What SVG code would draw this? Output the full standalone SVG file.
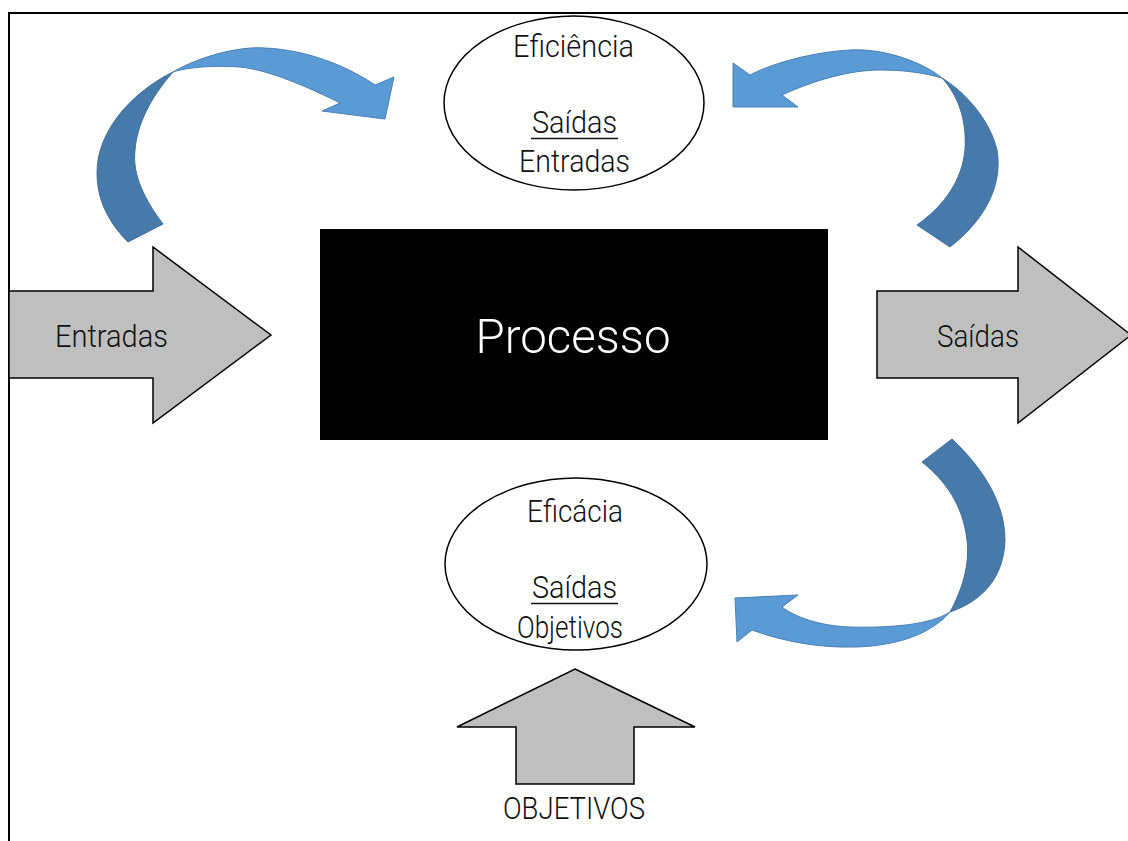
<svg xmlns="http://www.w3.org/2000/svg" width="1128" height="841" viewBox="0 0 1128 841">
  <style>
    .frame { fill: none; stroke: #000; stroke-width: 2; }
    .block { fill: #BFBFBF; stroke: #000; stroke-width: 1.5; stroke-linejoin: miter; }
    .oval { fill: #fff; stroke: #000; stroke-width: 1.5; }
    .lbl { font-family: Roboto, "Liberation Sans", sans-serif; font-size: 32px; font-weight: 300; fill: #111; text-anchor: middle; }
    .big { font-family: Roboto, "Liberation Sans", sans-serif; font-size: 49px; font-weight: 300; fill: #fff; text-anchor: middle; }
    .ul { stroke: #111; stroke-width: 1.5; }
    .front { fill: #5B9BD5; stroke: #4A7FB3; stroke-width: 1; stroke-linejoin: round; }
    .back { fill: #477AAB; stroke: #3F6E9C; stroke-width: 1; stroke-linejoin: round; }
  </style>

  <!-- page frame -->
  <path class="frame" d="M9 841 V13 H1128"/>

  <!-- central process block -->
  <g id="processo">
    <rect x="320" y="229" width="508" height="211" fill="#000"/>
    <text class="big" x="573" y="353" textLength="195" lengthAdjust="spacingAndGlyphs">Processo</text>
  </g>

  <!-- inputs -->
  <g id="entradas">
    <polygon class="block" points="9,291 153,291 153,247 271,335 153,423 153,378 9,378"/>
    <text class="lbl" x="111.5" y="347" textLength="113" lengthAdjust="spacingAndGlyphs">Entradas</text>
  </g>

  <!-- outputs -->
  <g id="saidas">
    <polygon class="block" points="877,291 1018,291 1018,247 1131,335 1018,423 1018,378 877,378"/>
    <text class="lbl" x="978" y="347" textLength="82" lengthAdjust="spacingAndGlyphs">Saídas</text>
  </g>

  <!-- efficiency -->
  <g id="eficiencia">
    <ellipse class="oval" cx="574" cy="103" rx="130" ry="87"/>
    <text class="lbl" x="573.5" y="57" textLength="121" lengthAdjust="spacingAndGlyphs">Eficiência</text>
    <text class="lbl" x="574.5" y="133" textLength="85" lengthAdjust="spacingAndGlyphs">Saídas</text>
    <line class="ul" x1="531" y1="138.5" x2="618" y2="138.5"/>
    <text class="lbl" x="574.5" y="172" textLength="111" lengthAdjust="spacingAndGlyphs">Entradas</text>
  </g>

  <!-- effectiveness -->
  <g id="eficacia">
    <ellipse class="oval" cx="576" cy="564" rx="131" ry="86"/>
    <text class="lbl" x="575" y="522" textLength="96" lengthAdjust="spacingAndGlyphs">Eficácia</text>
    <text class="lbl" x="574.5" y="598" textLength="85" lengthAdjust="spacingAndGlyphs">Saídas</text>
    <line class="ul" x1="531" y1="603.5" x2="618" y2="603.5"/>
    <text class="lbl" x="570" y="638" textLength="106" lengthAdjust="spacingAndGlyphs">Objetivos</text>
  </g>

  <!-- objectives -->
  <g id="objetivos">
    <polygon class="block" points="575,669 695,727 634,727 634,784 516,784 516,727 457,727"/>
    <text class="lbl" x="574" y="819" textLength="142" lengthAdjust="spacingAndGlyphs">OBJETIVOS</text>
  </g>

  <!-- curved feedback arrows -->
  <g id="connectors">
    <!-- inputs to efficiency -->
    <path class="back" d="M173 72 C140 88 105 120 98 160 C93 195 108 222 128 242 L163 224 C145 200 132 175 135 150 C137 125 150 98 173 72 Z"/>
    <path class="front" d="M173 72 C200 56 240 46 265 48 C310 50 350 68 375 85 L394 77 L385 119 L322 111 L340 103 C310 88 270 70 240 67 C210 65 185 68 173 72 Z"/>

    <!-- outputs to efficiency -->
    <path class="back" d="M942 78 C965 92 990 120 997 150 C1003 185 985 220 950 247 L917 225 C945 205 962 180 965 150 C967 120 958 95 942 78 Z"/>
    <path class="front" d="M942 78 C920 60 880 48 850 50 C815 52 775 62 750 75 L733 63 L733 107 L798 107 L782 95 C815 80 850 70 880 70 C905 70 925 73 942 78 Z"/>

    <!-- outputs to effectiveness -->
    <path class="back" d="M952 439 C985 470 1005 505 1005 540 C1004 575 985 600 950 612 C962 590 970 565 967 540 C963 505 945 480 922 462 Z"/>
    <path class="front" d="M950 612 C930 625 890 628 850 627 C820 626 795 617 782 607 L798 595 L735 598 L737 642 L752 630 C785 642 820 648 855 647 C895 646 930 635 950 612 Z"/>
  </g>
</svg>
